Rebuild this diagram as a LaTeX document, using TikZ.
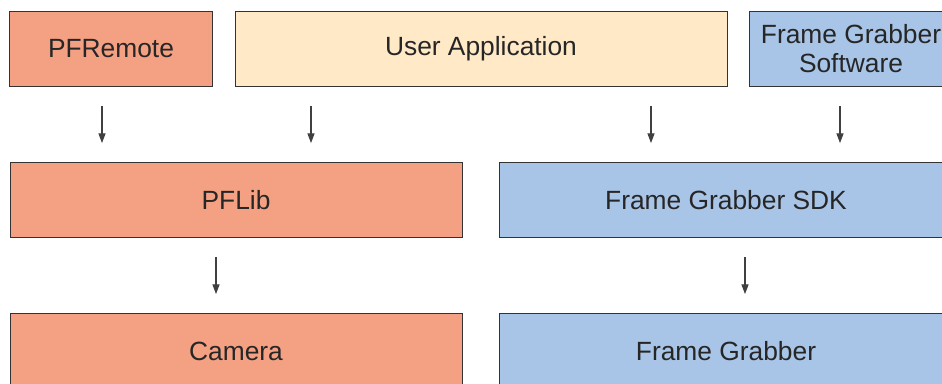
\documentclass[tikz,border=0pt]{standalone}
\usepackage{fontspec}
\setmainfont{Liberation Sans}
\usetikzlibrary{arrows.meta}
\definecolor{salmon}{HTML}{F4A083}
\definecolor{cream}{HTML}{FFE9C6}
\definecolor{skyblue}{HTML}{A8C4E6}
\begin{document}
\begin{tikzpicture}[x=0.02cm, y=-0.02cm,
  every node/.style={draw=black!80, line width=0.5pt, inner sep=0pt, align=center,
    font=\fontsize{15}{16.5}\selectfont, text=black!85},
  layer/.style={minimum height=1.5cm},
  arr/.style={-{Triangle[length=5.5pt, width=4pt]}, line width=0.6pt, draw=black!75,
    shorten <=0.38cm, shorten >=0.38cm}]
\useasboundingbox (0,0) rectangle (942,383);
\clip (0,0) rectangle (942,383);
% top row
\node[layer, fill=salmon, minimum width=4.06cm] (pfremote) at (111,49) {PFRemote};
\node[layer, fill=cream, minimum width=9.84cm] (userapp) at (481,49) {User Application};
\node[layer, fill=skyblue, minimum width=4.08cm] (fgsw) at (851,49) {Frame Grabber\\Software};
% middle row
\node[layer, fill=salmon, minimum width=9.04cm] (pflib) at (236,200) {PFLib};
\node[layer, fill=skyblue, minimum width=9.08cm] (sdk) at (726,200) {Frame Grabber SDK};
% bottom row
\node[layer, fill=salmon, minimum width=9.04cm] (camera) at (236,351) {Camera};
\node[layer, fill=skyblue, minimum width=9.08cm] (grabber) at (726,351) {Frame Grabber};
% arrows
\foreach \x/\from/\to in {102/pfremote/pflib, 311/userapp/pflib, 651/userapp/sdk,
  840/fgsw/sdk, 216/pflib/camera, 745/sdk/grabber}
  \draw[arr] (\from.south -| \x,0) -- (\to.north -| \x,0);
\end{tikzpicture}
\end{document}
